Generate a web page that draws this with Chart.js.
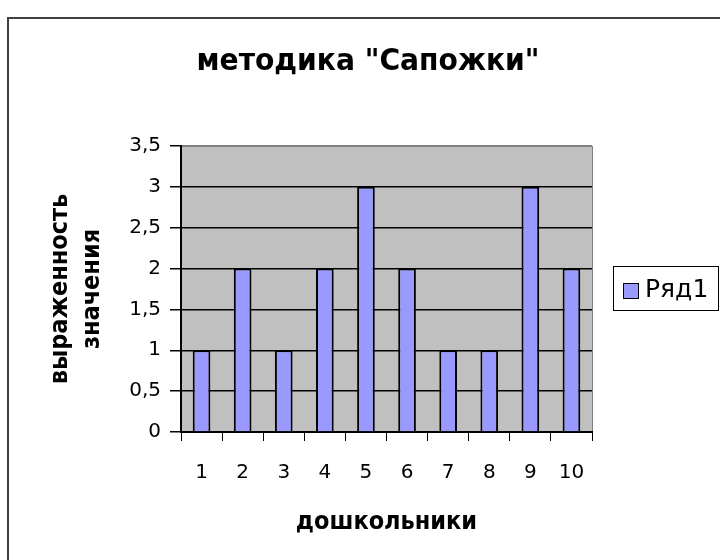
<!DOCTYPE html>
<html>
<head>
<meta charset="utf-8">
<script src="https://cdn.jsdelivr.net/npm/chart.js@4/dist/chart.umd.min.js"></script>
<style>
  html, body { margin: 0; padding: 0; background: #fff; }
  #wrap { width: 720px; height: 560px; }
</style>
</head>
<body>
<div id="wrap"><canvas id="chart" width="720" height="560"></canvas></div>
<script>
// ====== Data ======
const chartTitle  = 'методика "Сапожки"';
const xTitle      = 'дошкольники';
const yTitle      = ['выраженность', 'значения'];
const seriesName  = 'Ряд1';
const categories  = ['1', '2', '3', '4', '5', '6', '7', '8', '9', '10'];
const values      = [1, 2, 1, 2, 3, 2, 1, 1, 3, 2];
const yMin = 0, yMax = 3.5, yStep = 0.5;

// ====== Styles ======
const BAR_FILL   = '#9999ff';
const PLOT_BG    = '#c0c0c0';
const TITLE_FONT = '"DejaVu Sans Condensed", "DejaVu Sans", sans-serif';
const TICK_FONT  = '"DejaVu Sans", sans-serif';

// plot background + frame, chart title, outer border, legend box
const excelLook = {
  id: 'excelLook',
  beforeDraw(chart) {
    const { ctx, chartArea: a } = chart;
    ctx.save();
    ctx.fillStyle = PLOT_BG;
    ctx.fillRect(a.left, a.top, a.right - a.left, a.bottom - a.top);
    ctx.strokeStyle = '#808080';
    ctx.lineWidth = 1;
    ctx.strokeRect(a.left + 0.5, a.top + 0.5, a.right - a.left, a.bottom - a.top);
    ctx.restore();
  },
  afterDraw(chart) {
    const { ctx } = chart;
    ctx.save();
    // outer border (runs off right/bottom like the original)
    ctx.strokeStyle = '#404040';
    ctx.lineWidth = 2;
    ctx.strokeRect(8, 18, 800, 800);

    // title: tall, tightly set bold text, squeezed to the original's width
    ctx.save();
    ctx.fillStyle = '#000';
    ctx.font = 'bold 31px "DejaVu Sans", sans-serif';
    ctx.textAlign = 'center';
    ctx.textBaseline = 'middle';
    const sx = Math.min(1, 343 / ctx.measureText(chartTitle).width);
    ctx.translate(368, 62);
    ctx.scale(sx, 1);
    ctx.fillText(chartTitle, 0, 0);
    ctx.restore();

    // legend
    const ds = chart.data.datasets[0];
    ctx.fillStyle = '#fff';
    ctx.fillRect(613, 266, 105, 44);
    ctx.strokeStyle = '#000';
    ctx.lineWidth = 1;
    ctx.strokeRect(613.5, 266.5, 105, 44);
    ctx.fillStyle = ds.backgroundColor;
    ctx.fillRect(623, 283, 15, 15);
    ctx.strokeRect(623.5, 283.5, 15, 15);
    ctx.fillStyle = '#000';
    ctx.font = '25px ' + TICK_FONT;
    ctx.textBaseline = 'middle';
    ctx.textAlign = 'left';
    ctx.fillText(ds.label, 645, 290);
    ctx.restore();
  }
};

const ctx = document.getElementById('chart').getContext('2d');
new Chart(ctx, {
  type: 'bar',
  data: {
    labels: categories,
    datasets: [{
      label: seriesName,
      data: values,
      backgroundColor: BAR_FILL,
      borderColor: '#000',
      borderWidth: 2,
      barPercentage: 0.43,
      categoryPercentage: 1
    }]
  },
  options: {
    responsive: false,
    animation: false,
    layout: { padding: { left: 0, top: 146, right: 128, bottom: 0 } },
    plugins: {
      legend: { display: false },
      tooltip: { enabled: false },
      title: { display: false }
    },
    scales: {
      x: {
        afterFit: s => { s.height = 128; },
        grid: {
          offset: true,
          drawOnChartArea: false,
          drawTicks: true,
          tickLength: 9,
          color: '#000',
          tickColor: '#000'
        },
        border: { display: true, color: '#000', width: 2 },
        ticks: {
          color: '#000',
          font: { family: TICK_FONT, size: 20 },
          padding: 20,
          maxRotation: 0
        },
        title: {
          display: true,
          text: xTitle,
          color: '#000',
          font: { family: TITLE_FONT, size: 25, weight: 'bold', lineHeight: 1.2 },
          padding: { top: 0, bottom: 23 }
        }
      },
      y: {
        min: yMin,
        max: yMax,
        afterFit: s => { s.width = 181; },
        grid: {
          color: c => (c.tick && c.tick.value === yMax) ? '#808080' : '#000',
          tickColor: '#000',
          lineWidth: 1.5,
          tickLength: 11,
          drawTicks: true
        },
        border: { display: true, color: '#000', width: 2 },
        ticks: {
          stepSize: yStep,
          color: '#000',
          font: { family: TICK_FONT, size: 20 },
          padding: 9,
          callback: v => String(v).replace('.', ',')
        },
        title: {
          display: true,
          text: yTitle,
          color: '#000',
          font: { family: TITLE_FONT, size: 25, weight: 'bold', lineHeight: 1.3 },
          padding: { top: 44, bottom: 0 }
        }
      }
    }
  },
  plugins: [excelLook]
});
</script>
</body>
</html>
